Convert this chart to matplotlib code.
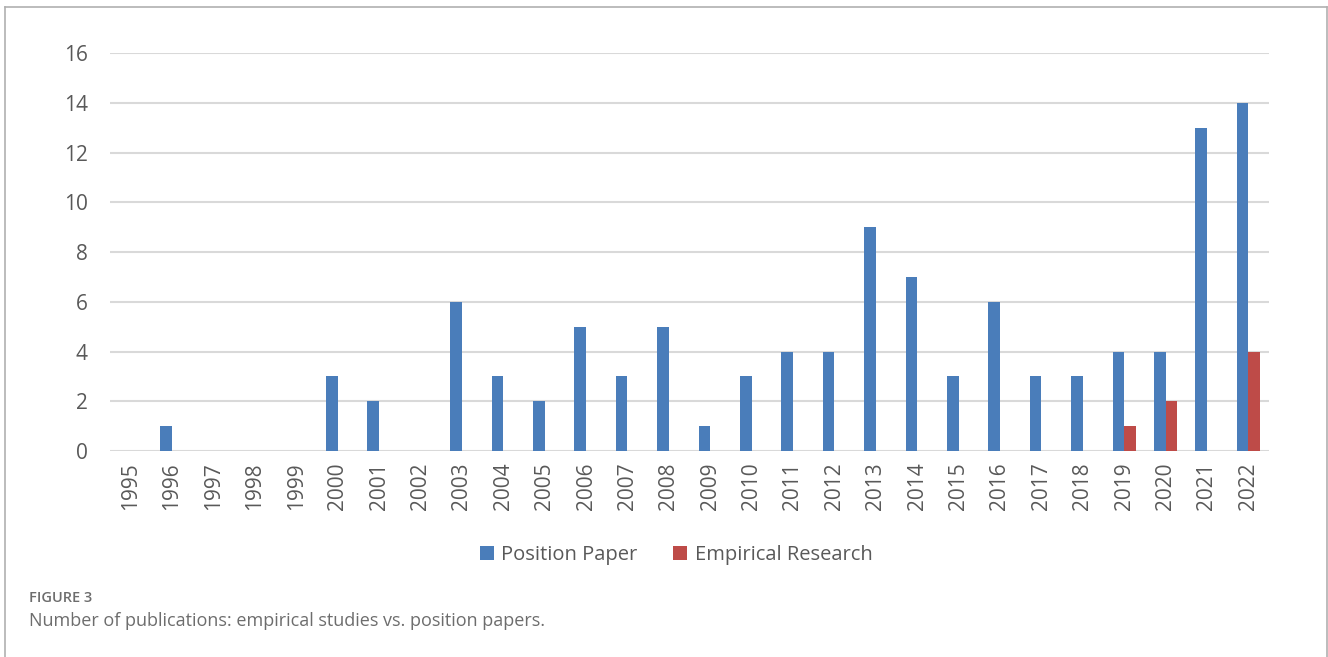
import numpy as np
import matplotlib.pyplot as plt
from matplotlib.lines import Line2D

years = [str(y) for y in range(1995, 2023)]
position_paper = [0, 1, 0, 0, 0, 3, 2, 0, 6, 3, 2, 5, 3, 5, 1, 3, 4, 4, 9, 7, 3, 6, 3, 3, 4, 4, 13, 14]
empirical = [0, 0, 0, 0, 0, 0, 0, 0, 0, 0, 0, 0, 0, 0, 0, 0, 0, 0, 0, 0, 0, 0, 0, 0, 1, 2, 0, 4]

plt.rcParams['font.family'] = ['Open Sans', 'DejaVu Sans']

fig = plt.figure(figsize=(13.28, 6.57), dpi=100)
ax = fig.add_axes([0.0828, 0.3135, 0.8728, 0.6058])

x = np.arange(len(years))
w = 0.28
blue = '#4A7DBA'
red = '#BE4B48'
ax.bar(x - w / 2, position_paper, w, color=blue, label='Position Paper', zorder=3)
ax.bar(x + w / 2, empirical, w, color=red, label='Empirical Research', zorder=3)

ax.set_xlim(-0.5, len(years) - 0.5)
ax.set_ylim(0, 16)
ax.set_yticks(range(0, 17, 2))
ax.set_xticks(x)
ax.set_xticklabels(years, rotation=90)
ax.tick_params(axis='both', length=0, labelsize=15, labelcolor='#595959')
ax.tick_params(axis='y', pad=16)
ax.tick_params(axis='x', pad=8)
ax.yaxis.grid(True, color='#d9d9d9', linewidth=1.5, zorder=0)
for s in ax.spines.values():
    s.set_visible(False)

ax.legend(loc='center', bbox_to_anchor=(676 / 1328, 1 - 555 / 657),
          bbox_transform=fig.transFigure, ncol=2, frameon=False,
          fontsize=14.5, labelcolor='#595959', handlelength=0.7, handleheight=0.7,
          handletextpad=0.35, columnspacing=1.8)

# caption
fig.text(29 / 1328, 1 - 598 / 657, 'FIGURE 3', fontsize=10.5, color='#6d6d6d',
         va='center', ha='left', fontweight='semibold')
fig.text(29 / 1328, 1 - 621 / 657, 'Number of publications: empirical studies vs. position papers.',
         fontsize=13, color='#6d6d6d', va='center', ha='left')

# frame around the figure panel
frame = dict(color='#b0b0b0', linewidth=1.2, transform=fig.transFigure)
x0, x1, yt = 4.5 / 1328, 1326.5 / 1328, 1 - 7 / 657
fig.add_artist(Line2D([x0, x1], [yt, yt], **frame))
fig.add_artist(Line2D([x0, x0], [0, yt], **frame))
fig.add_artist(Line2D([x1, x1], [0, yt], **frame))

fig.savefig('out.png', dpi=100)
